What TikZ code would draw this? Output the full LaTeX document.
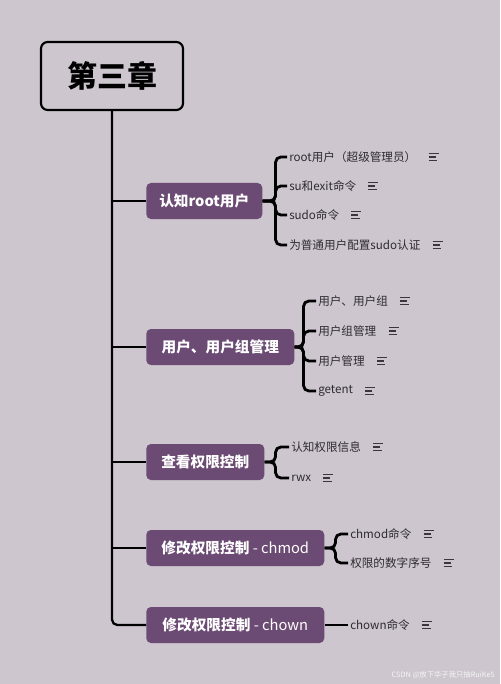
\documentclass[tikz,border=0pt]{standalone}
\usepackage{fontspec}
\setmainfont{Noto Sans CJK SC}
\definecolor{bg}{HTML}{CDC6CF}
\definecolor{purp}{HTML}{6B4B73}
\definecolor{txt}{HTML}{2E2A30}
\definecolor{icon}{HTML}{3A363C}
\begin{document}
\begin{tikzpicture}[x=0.75pt,y=-0.75pt,
  trunk/.style={draw=black, line width=1.7pt, rounded corners=4pt},
  brk/.style={draw=black, line width=2.1pt, rounded corners=4pt},
  rootbox/.style={draw=black, line width=1.6pt, rounded corners=5pt, fill=bg,
    minimum width=106.5pt, minimum height=51pt, inner sep=0pt,
    font=\fontsize{22.5pt}{26pt}\selectfont\bfseries},
  branch/.style={fill=purp, text=white, rounded corners=3.5pt, minimum height=27pt,
    anchor=west, inner sep=0pt, font=\fontsize{11pt}{13pt}\selectfont\bfseries},
  leaf/.style={anchor=west, inner sep=1.5pt, text=txt,
    font=\fontsize{8.7pt}{10pt}\selectfont},
  notesicon/.pic={\draw[line width=0.8pt, icon] (0,-3.5) -- (10,-3.5) (0,0) -- (7,0) (0,3.5) -- (8.5,3.5);}
]
\fill[bg] (0,0) rectangle (500,684);
\useasboundingbox (0,0) rectangle (500,684);

\node[rootbox] (root) at (112,76) {第三章};

\node[branch, minimum width=87pt]    (b1) at (146,201) {认知root用户};
\node[branch, minimum width=111pt]   (b2) at (146,347) {用户、用户组管理};
\node[branch, minimum width=88.5pt]  (b3) at (146,462) {查看权限控制};
\node[branch, minimum width=133.5pt] (b4) at (146,548) {修改权限控制\mdseries{} - chmod};
\node[branch, minimum width=133.5pt] (b5) at (146,625) {修改权限控制\mdseries{} - chown};

% trunk
\draw[trunk] (root.south) |- (b5.west);
\foreach \b in {b1,b2,b3,b4} \draw[trunk] (root.south |- \b.west) -- (\b.west);

% leaves of b1
\node[leaf] (c11) at (287,157) {root用户（超级管理员）};
\node[leaf] (c12) at (287,186) {su和exit命令};
\node[leaf] (c13) at (287,215) {sudo命令};
\node[leaf] (c14) at (287,245) {为普通用户配置sudo认证};
\foreach \c in {c11,c12,c13,c14} \draw[brk] (b1.east) -- ++(13,0) |- (\c.west);

% leaves of b2
\node[leaf] (c21) at (316,301) {用户、用户组};
\node[leaf] (c22) at (316,331) {用户组管理};
\node[leaf] (c23) at (316,361) {用户管理};
\node[leaf] (c24) at (316,391) {getent};
\foreach \c in {c21,c22,c23,c24} \draw[brk] (b2.east) -- ++(9,0) |- (\c.west);

% leaves of b3
\node[leaf] (c31) at (289,447) {认知权限信息};
\node[leaf] (c32) at (289,478) {rwx};
\foreach \c in {c31,c32} \draw[brk] (b3.east) -- ++(11,0) |- (\c.west);

% leaves of b4
\node[leaf] (c41) at (348,534) {chmod命令};
\node[leaf] (c42) at (348,563) {权限的数字序号};
\foreach \c in {c41,c42} \draw[brk] (b4.east) -- ++(11,0) |- (\c.west);

% leaf of b5
\node[leaf] (c51) at (348,625) {chown命令};
\draw[brk] (b5.east) -- (c51.west);

% note icons
\foreach \c in {c11,c12,c13,c14,c21,c22,c23,c24,c31,c32,c41,c42,c51}
  \path (\c.east) ++(10,0) pic {notesicon};

% watermark
\node[anchor=east, inner sep=0pt, text=white!80!bg, font=\fontsize{5.5pt}{6pt}\selectfont] (wm) at (495,675) {CSDN @放下华子我只抽RuiKe5};
\end{tikzpicture}
\end{document}
